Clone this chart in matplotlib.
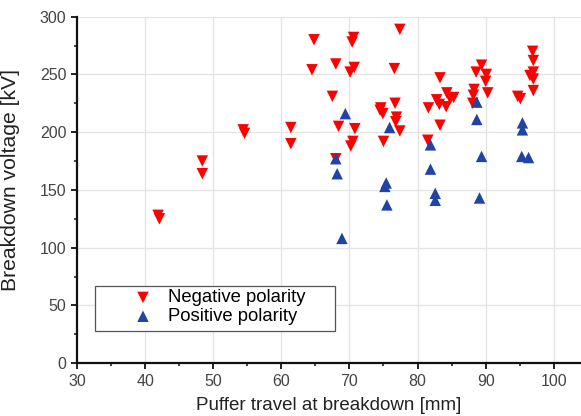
import matplotlib
matplotlib.use("Agg")
import matplotlib.pyplot as plt
from matplotlib.patches import Rectangle
from matplotlib.ticker import MultipleLocator

plt.rcParams['font.family'] = ['Liberation Sans', 'DejaVu Sans']

# Negative polarity breakdowns: puffer travel [mm], voltage [kV]
neg_travel = [41.9, 42.1, 48.4, 48.4, 54.4, 54.6, 61.4, 61.4,
              64.8, 64.5, 67.5, 68.0, 68.4, 68.0, 70.6, 70.4, 70.1, 70.7,
              70.8, 70.5, 70.2, 74.6, 74.5, 74.9, 75.0, 76.6, 76.7, 76.9,
              76.8, 77.4, 77.4, 81.6, 81.5, 82.8, 83.2, 83.3, 83.3, 84.2,
              84.3, 84.8, 85.3, 88.1, 88.2, 88.3, 88.6, 89.4, 90.0, 90.1,
              90.3, 94.7, 95.1, 96.5, 96.9, 97.0, 97.0, 97.0, 97.0]
neg_voltage = [128, 125, 175, 164, 202, 199, 204, 190,
               280, 254, 231, 259, 205, 177, 282, 278, 252, 256,
               203, 192, 188, 221, 219, 216, 192, 255, 225, 213,
               209, 201, 289, 221, 193, 228, 224, 206, 247, 222,
               234, 229, 230, 225, 232, 237, 252, 258, 244, 250,
               234, 231, 229, 249, 270, 262, 252, 246, 236]

# Positive polarity breakdowns
pos_travel = [68.0, 68.2, 68.9, 69.4, 75.2, 75.4, 75.5, 75.9,
              81.9, 81.9, 82.6, 82.6, 88.7, 88.7, 89.1, 89.4,
              95.3, 95.4, 95.4, 96.3]
pos_voltage = [177, 164, 108, 216, 153, 156, 137, 204,
               189, 168, 147, 141, 226, 211, 143, 179,
               179, 208, 202, 178]

fig = plt.figure(figsize=(5.81, 4.16), dpi=100)
ax = fig.add_axes([0.1325, 0.127, 0.8675, 0.833])

ax.grid(True, color='#e3e3e3', linewidth=0.9, zorder=0)
ax.set_axisbelow(True)

ax.scatter(neg_travel, neg_voltage, marker='v', s=68, color='#ff0000',
           edgecolors='none', zorder=3, label='Negative polarity')
ax.scatter(pos_travel, pos_voltage, marker='^', s=68, color='#2143a6',
           edgecolors='none', zorder=4, label='Positive polarity')

ax.set_xlim(30, 104)
ax.set_ylim(0, 300)
ax.xaxis.set_major_locator(MultipleLocator(10))
ax.xaxis.set_minor_locator(MultipleLocator(5))
ax.yaxis.set_major_locator(MultipleLocator(50))
ax.yaxis.set_minor_locator(MultipleLocator(25))

for side in ('top', 'right'):
    ax.spines[side].set_visible(False)
for side in ('left', 'bottom'):
    ax.spines[side].set_linewidth(1.6)
    ax.spines[side].set_color('#111111')

ax.tick_params(which='major', direction='out', length=4, width=1.3,
               labelsize=11.5, labelcolor='#444444', color='#111111')
ax.tick_params(which='minor', direction='out', length=2.5, width=1.1,
               color='#111111')

ax.set_xlabel('Puffer travel at breakdown [mm]', fontsize=13.5,
              color='#222222', labelpad=6)
ax.set_ylabel('Breakdown voltage [kV]', fontsize=15.2, color='#222222')
ax.yaxis.set_label_coords(-0.113, 0.528)

# Legend box drawn separately so its padding can be set freely
ax.add_patch(Rectangle((0.0357, 0.094), 0.476, 0.129,
                       transform=ax.transAxes, facecolor='white',
                       edgecolor='#555555', linewidth=0.9, zorder=5))
leg = ax.legend(loc='center left', bbox_to_anchor=(0.1126, 0.1616),
                fontsize=13.3, frameon=False, handletextpad=0.85,
                borderpad=0, labelspacing=0.1, borderaxespad=0,
                handlelength=1.0)
leg.set_zorder(6)

fig.savefig('out.png', dpi=100)
